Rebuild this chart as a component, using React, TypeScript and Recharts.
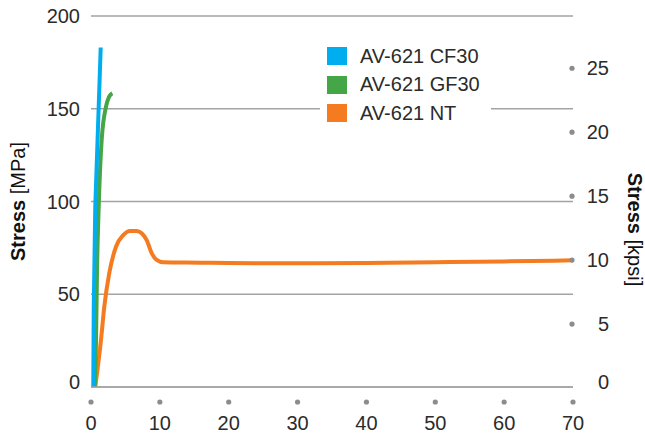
import React from "react";
import { LineChart, Line, XAxis, YAxis, CartesianGrid } from "recharts";

const seriesNames = ["AV-621 CF30", "AV-621 GF30", "AV-621 NT"];
const seriesColors = ["#00aeef", "#45a647", "#f47b20"];

// strain [%] / stress [MPa]
const cf30Strain = [0.33, 0.4, 0.62, 0.97, 1.41];
const cf30Stress = [0, 43, 97, 135, 183];
const gf30Strain = [0.55, 0.73, 0.87, 1.12, 1.55, 2.18, 2.6, 3.1];
const gf30Stress = [0, 25.3, 61.5, 97.2, 133.2, 151.1, 156.3, 158.3];
const ntStrain = [0.62, 1.45, 1.93, 2.66, 3.63, 4.69, 5.66, 6.64, 7.36, 8.09, 8.81, 9.54, 10.5, 15.8, 20, 30, 40, 50, 60, 70];
const ntStress = [0, 25.3, 43.3, 61.5, 75.6, 81.9, 84.1, 84.1, 82.9, 79.2, 72.2, 68.5, 67.2, 67.0, 66.8, 66.7, 66.9, 67.3, 67.7, 68.3];

const xTicks = [0, 10, 20, 30, 40, 50, 60, 70];
const mpaTicks = [0, 50, 100, 150, 200];
const ksiTicks = [0, 5, 10, 15, 20, 25];
const KSI_MAX = 200 / 6.894757;

const toPoints = (xs: number[], ys: number[]) => xs.map((x, i) => ({ x, y: ys[i] }));
const series = [
  toPoints(cf30Strain, cf30Stress),
  toPoints(gf30Strain, gf30Stress),
  toPoints(ntStrain, ntStress),
];

const FONT = "'Liberation Sans', Arial, Helvetica, sans-serif";
const TEXT = "#2b2b2b";
const GRID = "#a3a3a3";
const DOT = "#8c8c8c";

const LeftTick = ({ x, y, payload }: any) => (
  <text x={x - 11} y={y + (payload.value === 0 ? 2 : 7)} textAnchor="end" fontSize={20} fontFamily={FONT} fill={TEXT}>{payload.value}</text>
);

const RightTick = ({ x, y, payload }: any) => (
  <g>
    {payload.value !== 0 && <circle cx={x - 1} cy={y + 1} r={2.6} fill={DOT} />}
    <text x={x + 36} y={y + (payload.value === 0 ? 2 : 8)} textAnchor="end" fontSize={20} fontFamily={FONT} fill={TEXT}>{payload.value}</text>
  </g>
);

const BottomTick = ({ x, y, payload }: any) => (
  <g>
    <circle cx={x} cy={y + 15} r={2.6} fill={DOT} />
    <text x={x} y={y + 43} textAnchor="middle" fontSize={20} fontFamily={FONT} fill={TEXT}>{payload.value}</text>
  </g>
);

const LeftTitle = ({ viewBox }: any) => {
  const cx = viewBox.x + 25, cy = viewBox.y + viewBox.height / 2;
  return (
    <text x={cx} y={cy} transform={`rotate(-90 ${cx} ${cy})`} textAnchor="middle" fontSize={20} fontFamily={FONT} fill="#111">
      <tspan fontWeight="bold">Stress</tspan><tspan> [MPa]</tspan>
    </text>
  );
};

const RightTitle = ({ viewBox }: any) => {
  const cx = viewBox.x + 55, cy = viewBox.y + viewBox.height / 2 + 28;
  return (
    <text x={cx} y={cy} transform={`rotate(90 ${cx} ${cy})`} textAnchor="middle" fontSize={20} fontFamily={FONT} fill="#111">
      <tspan fontWeight="bold">Stress</tspan><tspan> [kpsi]</tspan>
    </text>
  );
};

const LegendBox = () => (
  <div style={{ position: "absolute", left: 320, top: 42, width: 164, background: "#fff", paddingLeft: 7, fontFamily: FONT, fontSize: 20, color: TEXT }}>
    {seriesNames.map((n, i) => (
      <div key={n} style={{ display: "flex", alignItems: "center", height: 28.5 }}>
        <span style={{ width: 20, height: 18, background: seriesColors[i], display: "inline-block", marginRight: 13 }} />
        <span>{n}</span>
      </div>
    ))}
  </div>
);

export default function App() {
  return (
    <div style={{ position: "absolute", left: 0, top: 0, width: 645, height: 437, background: "#fff" }}>
      <LineChart width={645} height={437} margin={{ top: 16, right: 0, bottom: 0, left: 0 }}>
        <CartesianGrid horizontal vertical={false} stroke={GRID} strokeWidth={1.5} yAxisId="mpa" />
        <XAxis
          type="number"
          dataKey="x"
          domain={[0, 70]}
          ticks={xTicks}
          allowDataOverflow
          height={50}
          tickSize={0}
          tickMargin={0}
          tickLine={false}
          axisLine={{ stroke: GRID, strokeWidth: 1.5 }}
          tick={<BottomTick />}
        />
        <YAxis
          yAxisId="mpa"
          type="number"
          domain={[0, 200]}
          ticks={mpaTicks}
          width={91}
          tickSize={0}
          tickMargin={0}
          tickLine={false}
          axisLine={false}
          tick={<LeftTick />}
          label={<LeftTitle />}
        />
        <YAxis
          yAxisId="ksi"
          orientation="right"
          type="number"
          domain={[0, KSI_MAX]}
          ticks={ksiTicks}
          allowDataOverflow
          width={72}
          tickSize={0}
          tickMargin={0}
          tickLine={false}
          axisLine={false}
          tick={<RightTick />}
          label={<RightTitle />}
        />
        {[2, 1, 0].map((i) => (
          <Line
            key={seriesNames[i]}
            yAxisId="mpa"
            data={series[i]}
            dataKey="y"
            name={seriesNames[i]}
            type={i === 0 ? "linear" : "monotone"}
            stroke={seriesColors[i]}
            strokeWidth={4}
            dot={false}
            activeDot={false}
            isAnimationActive={false}
          />
        ))}
      </LineChart>
      <LegendBox />
    </div>
  );
}
